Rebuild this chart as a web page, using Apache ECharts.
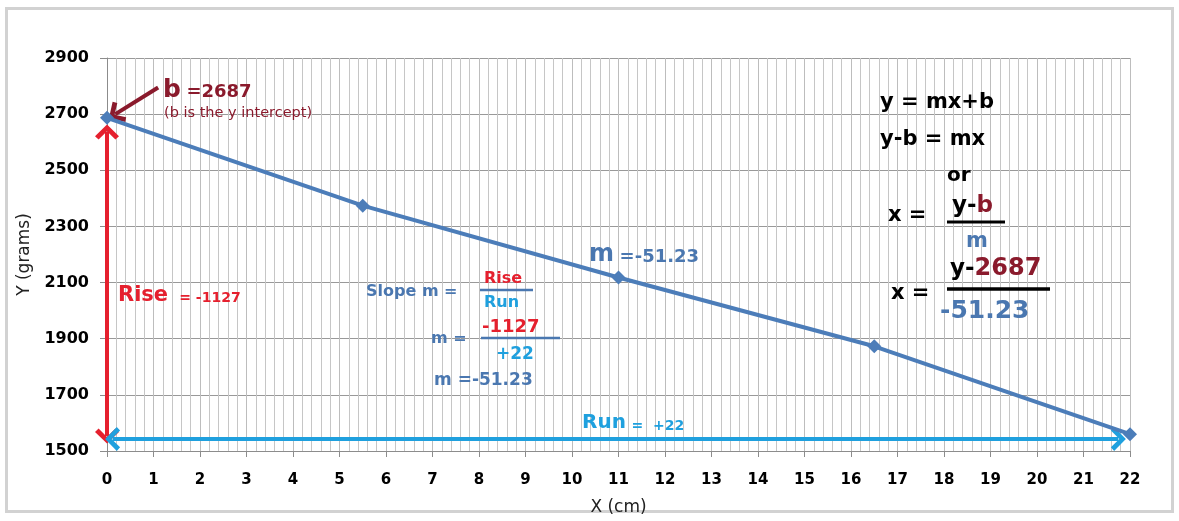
<!DOCTYPE html>
<html>
<head>
<meta charset="utf-8">
<script src="https://cdn.jsdelivr.net/npm/echarts@6/dist/echarts.min.js"></script>
<style>
html,body{margin:0;padding:0;background:#fff;}
#chart{width:1179px;height:521px;}
</style>
</head>
<body>
<div id="chart"></div>
<script>
// ---- data ----
var xValues = [0, 5.5, 11, 16.5, 22];
var yValues = [2687, 2374, 2118, 1873, 1560];
var xTicks = {min: 0, max: 22, step: 1};
var yTicks = {min: 1500, max: 2900, step: 200};
// annotation anchors (data units)
var interceptValue = 2687;
var riseArrow = [[0, 2636], [0, 1553]];
var runArrow = [[0.12, 1543], [21.75, 1543]];
var bArrow = [[1.1, 2795], [0.18, 2700]];

var seriesData = xValues.map(function (x, i) { return [x, yValues[i]]; });

var FONT = "'DejaVu Sans',sans-serif";
var RED = '#e5202e', DARKRED = '#8a1a2c', LBLUE = '#1fa0de', STEEL = '#4a77b0', LINE = '#4c7db9';
var chevron = 'path://M10,0 L20,9 L17,11.5 L10,5 L3,11.5 L0,9 Z';

var chart = echarts.init(document.getElementById('chart'), null, {renderer: 'canvas'});

function arrowSeries(pts, color, both) {
  return {
    type: 'line', data: [], silent: true, animation: false,
    markLine: {
      silent: true, animation: false,
      symbol: [both ? chevron : 'none', chevron],
      symbolSize: [24, 15],
      label: {show: false},
      lineStyle: {color: color, width: 4, type: 'solid'},
      emphasis: {disabled: true},
      data: [[{coord: pts[0]}, {coord: pts[1]}]]
    }
  };
}

function txt(x, y, rich, text, extra) {
  var o = {type: 'text', x: x, y: y, silent: true, z: 100,
    style: {text: text, rich: rich, font: 'bold 16px ' + FONT, fill: '#000', textVerticalAlign: 'middle'}};
  if (extra) { for (var k in extra) o.style[k] = extra[k]; }
  return o;
}
function bar(x1, x2, y, color, w) {
  return {type: 'line', silent: true, z: 100, shape: {x1: x1, y1: y, x2: x2, y2: y}, style: {stroke: color, lineWidth: w || 3}};
}

var option = {
  backgroundColor: '#fff',
  animation: false,
  grid: {left: 107, right: 49, top: 58, bottom: 69, containLabel: false},
  xAxis: {
    type: 'value', min: xTicks.min, max: xTicks.max, interval: xTicks.step,
    name: 'X (cm)', nameLocation: 'middle', nameGap: 48,
    nameTextStyle: {fontFamily: "'DejaVu Sans',sans-serif", fontSize: 17, color: '#222'},
    axisLine: {show: true, lineStyle: {color: '#8c8c8c', width: 1}},
    axisTick: {show: true, length: 6, lineStyle: {color: '#8c8c8c'}},
    axisLabel: {margin: 22, fontFamily: "'DejaVu Sans',sans-serif", fontWeight: 'bold', fontSize: 15, color: '#000'},
    splitLine: {show: true, lineStyle: {color: '#bdbdbd', width: 1}},
    minorTick: {show: false, splitNumber: 5},
    minorSplitLine: {show: true, lineStyle: {color: '#c6c6c6', width: 1}}
  },
  yAxis: {
    type: 'value', min: yTicks.min, max: yTicks.max, interval: yTicks.step,
    name: 'Y (grams)', nameLocation: 'middle', nameGap: 74, nameRotate: 90,
    nameTextStyle: {fontFamily: "'DejaVu Sans',sans-serif", fontSize: 17, color: '#222'},
    axisLine: {show: true, lineStyle: {color: '#8c8c8c', width: 1}},
    axisTick: {show: true, length: 7, lineStyle: {color: '#8c8c8c'}},
    axisLabel: {margin: 18, fontFamily: "'DejaVu Sans',sans-serif", fontWeight: 'bold', fontSize: 16, color: '#000',
      formatter: function (v) { return String(v); }},
    splitLine: {show: true, lineStyle: {color: '#999999', width: 1.2}}
  },
  series: [
    arrowSeries(riseArrow, RED, true),
    arrowSeries(runArrow, LBLUE, true),
    arrowSeries(bArrow, DARKRED, false),
    {
      type: 'line', data: seriesData, z: 5,
      symbol: 'diamond', symbolSize: 14, showSymbol: true,
      lineStyle: {color: LINE, width: 4},
      itemStyle: {color: LINE},
      silent: true
    }
  ],
  graphic: [
    {type: 'rect', silent: true, z: -1, shape: {x: 6.5, y: 8.5, width: 1166, height: 503},
      style: {fill: 'none', stroke: '#d2d2d2', lineWidth: 3}},
    // b = 2687
    txt(163, 90, {b: {font: 'bold 25px ' + FONT, fill: DARKRED}, v: {font: 'bold 18px ' + FONT, fill: DARKRED, padding: [4, 0, 0, 0]}},
      '{b|b} {v|=' + interceptValue + '}'),
    txt(164, 113, null, '(b is the y intercept)', {font: '14.5px ' + FONT, fill: DARKRED}),
    // right equations
    txt(880, 103, null, 'y = mx+b', {font: 'bold 21px ' + FONT, fill: '#000'}),
    txt(880, 140, null, 'y-b = mx', {font: 'bold 21px ' + FONT, fill: '#000'}),
    txt(947, 176, null, 'or', {font: 'bold 20px ' + FONT, fill: '#000'}),
    txt(888, 216, null, 'x =', {font: 'bold 21px ' + FONT, fill: '#000'}),
    txt(952, 206, {a: {font: 'bold 23px ' + FONT, fill: '#000'}, r: {font: 'bold 23px ' + FONT, fill: DARKRED}}, '{a|y-}{r|b}'),
    bar(947, 1005, 222, '#000', 3),
    txt(966, 242, null, 'm', {font: 'bold 21px ' + FONT, fill: STEEL}),
    txt(891, 294, null, 'x =', {font: 'bold 21px ' + FONT, fill: '#000'}),
    txt(950, 269, {a: {font: 'bold 23px ' + FONT, fill: '#000'}, r: {font: 'bold 24px ' + FONT, fill: DARKRED}}, '{a|y-}{r|2687}'),
    bar(947, 1050, 289, '#000', 3.5),
    txt(940, 311, null, '-51.23', {font: 'bold 25px ' + FONT, fill: STEEL}),
    // m near point
    txt(589, 255, {m: {font: 'bold 24px ' + FONT, fill: STEEL}, v: {font: 'bold 18px ' + FONT, fill: STEEL, padding: [4, 0, 0, 0]}}, '{m|m} {v|=-51.23}'),
    // slope formula
    txt(366, 292, null, 'Slope m =', {font: 'bold 16px ' + FONT, fill: STEEL}),
    txt(484, 279, null, 'Rise', {font: 'bold 16px ' + FONT, fill: RED}),
    bar(480, 533, 290, STEEL, 2.5),
    txt(484, 303, null, 'Run', {font: 'bold 16px ' + FONT, fill: LBLUE}),
    txt(431, 339, null, 'm =', {font: 'bold 16px ' + FONT, fill: STEEL}),
    txt(482, 327, null, '-1127', {font: 'bold 18px ' + FONT, fill: RED}),
    bar(481, 560, 338, STEEL, 2.5),
    txt(496, 355, null, '+22', {font: 'bold 17px ' + FONT, fill: LBLUE}),
    txt(434, 381, null, 'm =-51.23', {font: 'bold 17px ' + FONT, fill: STEEL}),
    // Rise / Run labels
    txt(118, 296, {r: {font: 'bold 21px ' + FONT, fill: RED}, v: {font: 'bold 14px ' + FONT, fill: RED, padding: [4, 0, 0, 0]}}, '{r|Rise}  {v|= -1127}'),
    txt(582, 423, {r: {font: 'bold 20px ' + FONT, fill: LBLUE}, v: {font: 'bold 14px ' + FONT, fill: LBLUE, padding: [6, 0, 0, 0]}}, '{r|Run} {v|=  +22}')
  ]
};
chart.setOption(option);
</script>
</body>
</html>
